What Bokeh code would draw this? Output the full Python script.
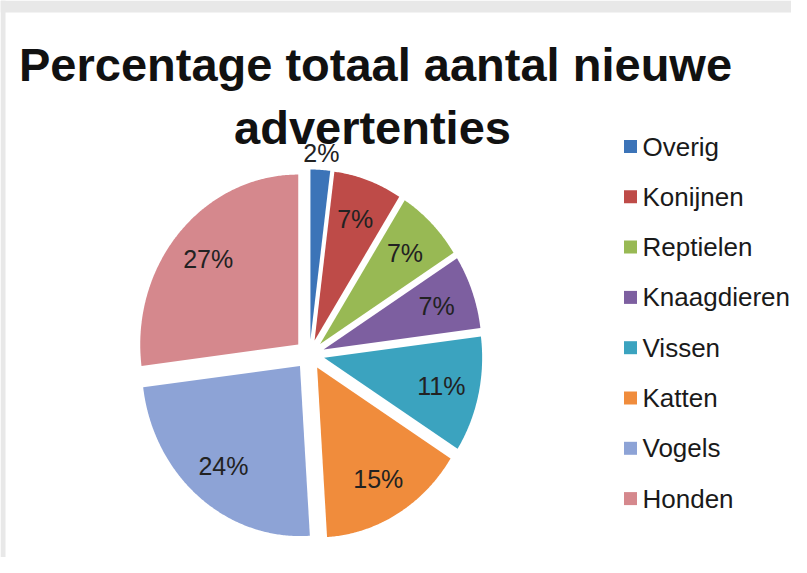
import numpy as np
from bokeh.plotting import figure
from bokeh.models import Range1d, ColumnDataSource
from bokeh.core.properties import value
from bokeh.embed import file_html
from bokeh.resources import INLINE

# ---- data ----
categories = ["Overig", "Konijnen", "Reptielen", "Knaagdieren",
              "Vissen", "Katten", "Vogels", "Honden"]
percentages = [2, 7, 7, 7, 11, 15, 24, 27]
title_lines = ["Percentage totaal aantal nieuwe", "advertenties"]

# ---- styles ----
colors = ["#3C74B8", "#BE4B48", "#98B954", "#7D5FA0",
          "#3BA3BF", "#F08C3C", "#8DA3D6", "#D5888D"]
FONT = value("Liberation Sans")

W, H = 791, 557
p = figure(width=W, height=H, x_range=Range1d(0, W), y_range=Range1d(H, 0),
           x_axis_type=None, y_axis_type=None, output_backend="svg",
           toolbar_location=None, min_border=0)
p.grid.visible = False
p.outline_line_color = None
p.background_fill_color = "white"
p.border_fill_color = "white"

# gray page background around the card (top band and left strip)
p.quad(left=[0, 0], right=[W, 5], top=[0, 0], bottom=[12, H],
       fill_color="#e8e8e8", line_color=None)

# ---- pie geometry (screen-like coordinates, y downward) ----
cx, cy = 309, 354
Rx, Ry = 158, 170
explode = 15

vals = np.array(percentages, dtype=float)
frac = vals / vals.sum()
ends = np.cumsum(frac) * 360.0
starts = ends - frac * 360.0
mids = (starts + ends) / 2

xs, ys, lx, ly = [], [], [], []
for a0, a1, m, f in zip(starts, ends, mids, frac):
    mr = np.radians(m)
    ox, oy = explode * np.sin(mr), -explode * np.cos(mr)
    vx, vy = cx + ox, cy + oy
    t = np.radians(np.linspace(a0, a1, max(8, int((a1 - a0) * 2))))
    px = np.concatenate([[vx], vx + Rx * np.sin(t)])
    py = np.concatenate([[vy], vy - Ry * np.cos(t)])
    xs.append(list(px))
    ys.append(list(py))
    k = 1.10 if f < 0.05 else 0.76
    lx.append(vx + k * Rx * np.sin(mr))
    ly.append(vy - k * Ry * np.cos(mr))

src = ColumnDataSource(dict(xs=xs, ys=ys, color=colors, name=categories))
p.patches("xs", "ys", source=src, fill_color="color", line_color=None)

labels = [f"{v}%" for v in percentages]
p.text(x=lx, y=ly, text=labels, text_font=FONT, text_font_size="25px",
       text_align="center", text_baseline="middle", text_color="#222222")

# ---- title ----
TS = 47
p.text(x=[375, 372], y=[80 - 0.35 * TS, 143 - 0.35 * TS], text=title_lines,
       text_font=FONT, text_font_size=f"{TS}px", text_font_style="bold",
       text_align="center", text_baseline="middle", text_color="#111111")

# ---- legend ----
leg_y = [146 + 50.3 * i for i in range(len(categories))]
p.rect(x=[630] * len(categories), y=leg_y, width=13, height=13,
       fill_color=colors, line_color=None)
p.text(x=[642] * len(categories), y=leg_y, text=categories,
       text_font=FONT, text_font_size="26px", text_align="left",
       text_baseline="middle", text_color="#1a1a1a")

open("out.html", "w").write(file_html(p, INLINE))
